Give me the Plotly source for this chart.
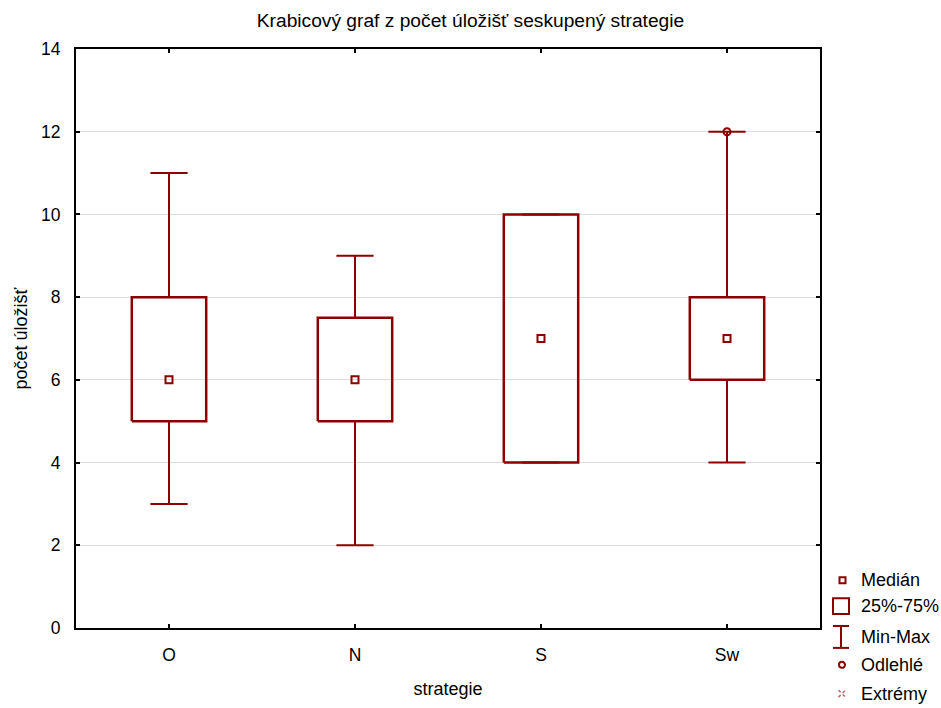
import plotly.graph_objects as go

# ---- data ----
categories = ["O", "N", "S", "Sw"]
minimum = [3, 2, 4, 4]
q1 = [5, 5, 4, 6]
median = [6, 6, 7, 7]
q3 = [8, 7.5, 10, 8]
maximum = [11, 9, 10, 12]
outlier_cat = ["Sw"]
outlier_val = [12]

title_text = "Krabicový graf z počet úložišť seskupený strategie"
x_title = "strategie"
y_title = "počet úložišť"
y_ticks = [0, 2, 4, 6, 8, 10, 12, 14]
legend_labels = ["Medián", "25%-75%", "Min-Max", "Odlehlé", "Extrémy"]

# ---- style ----
RED = "#8B0000"
FONT = "Liberation Sans, Arial, sans-serif"
W, H = 941, 708
L, R, T, B = 76, 820, 49, 631   # target plot area in page pixels
MARGIN_B = H - B - 3
BOX_HW = 0.2
CAP_HW = 0.1

pos = list(range(len(categories)))

fig = go.Figure()

# whiskers + caps
wx, wy = [], []
for i in pos:
    wx += [i, i, None, i, i, None]
    wy += [q3[i], maximum[i], None, q1[i], minimum[i], None]
    wx += [i - CAP_HW, i + CAP_HW, None, i - CAP_HW, i + CAP_HW, None]
    wy += [maximum[i], maximum[i], None, minimum[i], minimum[i], None]
fig.add_trace(go.Scatter(x=wx, y=wy, mode="lines", line=dict(color=RED, width=2),
                         hoverinfo="skip", showlegend=False))

# boxes
bx, by = [], []
for i in pos:
    bx += [i - BOX_HW, i + BOX_HW, i + BOX_HW, i - BOX_HW, i - BOX_HW, None]
    by += [q1[i], q1[i], q3[i], q3[i], q1[i], None]
fig.add_trace(go.Scatter(x=bx, y=by, mode="lines", line=dict(color=RED, width=2.5),
                         hoverinfo="skip", showlegend=False))

# medians
fig.add_trace(go.Scatter(x=pos, y=median, mode="markers",
                         marker=dict(symbol="square-open", size=7, color=RED,
                                     line=dict(width=2, color=RED)),
                         showlegend=False))

# outliers
fig.add_trace(go.Scatter(x=[categories.index(c) for c in outlier_cat], y=outlier_val,
                         mode="markers",
                         marker=dict(symbol="circle-open", size=7, color=RED,
                                     line=dict(width=2, color=RED)),
                         showlegend=False))

# ---- manual legend (pixel -> paper) ----
def px(x):
    return (x - L) / (R - L)

def py(y):
    return (B - y) / (B - T)

shapes = []
annotations = []
# Median marker
shapes.append(dict(type="rect", xref="paper", yref="paper",
                   x0=px(839.5), x1=px(845.5), y0=py(586), y1=py(580),
                   line=dict(color=RED, width=2)))
# 25-75 box
shapes.append(dict(type="rect", xref="paper", yref="paper",
                   x0=px(833), x1=px(849), y0=py(617), y1=py(601),
                   line=dict(color=RED, width=2)))
# Min-Max
for yy in (629, 651):
    shapes.append(dict(type="line", xref="paper", yref="paper",
                       x0=px(833), x1=px(849), y0=py(yy), y1=py(yy),
                       line=dict(color=RED, width=2)))
shapes.append(dict(type="line", xref="paper", yref="paper",
                   x0=px(841), x1=px(841), y0=py(629), y1=py(651),
                   line=dict(color=RED, width=2)))
# Outlier circle
shapes.append(dict(type="circle", xref="paper", yref="paper",
                   x0=px(839), x1=px(845), y0=py(671), y1=py(665),
                   line=dict(color=RED, width=2)))
# Extreme x
for (a, b_) in ((-1, 1), (1, -1)):
    shapes.append(dict(type="line", xref="paper", yref="paper",
                       x0=px(842 - 3.5), x1=px(842 + 3.5),
                       y0=py(697 - 3.5 * a), y1=py(697 - 3.5 * b_),
                       line=dict(color="#c06060", width=1.5, dash="dot")))

legend_y = [583, 609, 640, 668, 697]
for lab, yy in zip(legend_labels, legend_y):
    annotations.append(dict(text=lab, xref="paper", yref="paper", x=px(859), y=py(yy),
                            xanchor="left", yanchor="middle", showarrow=False,
                            font=dict(family=FONT, size=18, color="black")))

# y axis title
annotations.append(dict(text=y_title, xref="paper", yref="paper", x=px(20), y=py(340),
                        xanchor="center", yanchor="middle", textangle=-90, showarrow=False,
                        font=dict(family=FONT, size=18, color="black")))

fig.update_layout(
    width=W, height=H,
    margin=dict(l=L, r=W - R, t=T, b=MARGIN_B, pad=0),
    paper_bgcolor="white", plot_bgcolor="white",
    font=dict(family=FONT, size=17, color="black"),
    title=dict(text=title_text, x=0.5, xref="container", xanchor="center",
               y=1 - 20 / H, yref="container", yanchor="middle",
               font=dict(family=FONT, size=19.2, color="black")),
    showlegend=False,
    shapes=shapes,
    annotations=annotations,
    xaxis=dict(range=[-0.5, len(categories) - 0.5], tickvals=pos, ticktext=categories,
               showgrid=False, zeroline=False, showline=True, linecolor="black",
               linewidth=2, mirror="allticks", ticks="inside", ticklen=4,
               tickcolor="black", tickwidth=1.5, ticklabelstandoff=10,
               title=dict(text=x_title, standoff=18, font=dict(family=FONT, size=18)),
               tickfont=dict(family=FONT, size=17.5)),
    yaxis=dict(range=[0, 14], tickvals=y_ticks, showgrid=True, gridcolor="#dcdcdc",
               gridwidth=1, zeroline=False, showline=True, linecolor="black",
               linewidth=2, mirror="allticks", ticks="inside", ticklen=4,
               tickcolor="black", tickwidth=1.5, ticklabelstandoff=10,
               tickfont=dict(family=FONT, size=17.5)),
)

fig.write_html("out.html", config={"displayModeBar": False},
               post_script="document.body.style.margin='0';document.body.style.padding='0';")
